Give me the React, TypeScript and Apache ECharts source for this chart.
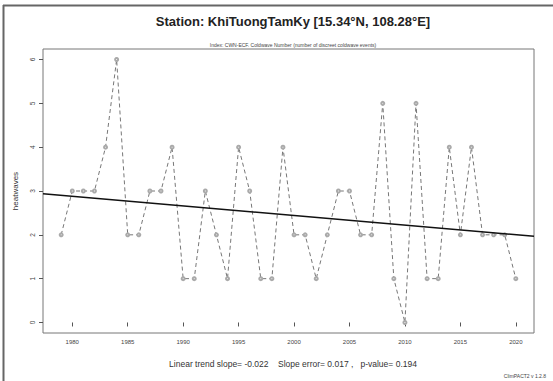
import React, { useEffect, useRef } from "react";
import * as echarts from "echarts";

const years: number[] = [
  1979, 1980, 1981, 1982, 1983, 1984, 1985, 1986, 1987, 1988, 1989, 1990, 1991, 1992,
  1993, 1994, 1995, 1996, 1997, 1998, 1999, 2000, 2001, 2002, 2003, 2004, 2005, 2006,
  2007, 2008, 2009, 2010, 2011, 2012, 2013, 2014, 2015, 2016, 2017, 2018, 2019, 2020,
];
const values: number[] = [
  2, 3, 3, 3, 4, 6, 2, 2, 3, 3, 4, 1, 1, 3,
  2, 1, 4, 3, 1, 1, 4, 2, 2, 1, 2, 3, 3, 2,
  2, 5, 1, 0, 5, 1, 1, 4, 2, 4, 2, 2, 2, 1,
];
const xTicks: number[] = [1980, 1985, 1990, 1995, 2000, 2005, 2010, 2015, 2020];
const yTicks: number[] = [0, 1, 2, 3, 4, 5, 6];
const trendYears: number[] = [1977.36, 2021.64];
const trendValues: number[] = [2.94, 1.965];

const titleText = "Station: KhiTuongTamKy [15.34°N, 108.28°E]";
const subText = "Index: CWN-ECF. Coldwave Number (number of discreet coldwave events)";
const footText = "Linear trend slope= -0.022    Slope error= 0.017 ,   p-value= 0.194";
const versionText = "ClimPACT2 v 1.2.8";

export default function App() {
  const ref = useRef<HTMLDivElement>(null);
  useEffect(() => {
    if (!ref.current) return;
    const chart = echarts.init(ref.current, undefined, { renderer: "svg" });
    const font = "'Liberation Sans', Arial, sans-serif";
    const axisCol = "#555";
    chart.setOption({
      animation: false,
      backgroundColor: "#fff",
      textStyle: { fontFamily: font },
      title: [
        {
          text: titleText,
          left: 288,
          textAlign: "center",
          top: 10,
          textStyle: { fontSize: 13, fontWeight: "bold", color: "#222", fontFamily: font },
        },
        {
          text: subText,
          left: 288,
          textAlign: "center",
          top: 37,
          textStyle: { fontSize: 5, fontWeight: "normal", color: "#444", fontFamily: font },
        },
        {
          text: footText,
          left: 288,
          textAlign: "center",
          top: 354,
          textStyle: { fontSize: 8.5, fontWeight: "normal", color: "#333", fontFamily: font },
        },
        {
          text: versionText,
          right: 2,
          top: 368,
          textStyle: { fontSize: 5, fontWeight: "normal", color: "#444", fontFamily: font },
        },
      ],
      graphic: [
        { type: "line", shape: { x1: 3.5, y1: 5, x2: 3.5, y2: 381 }, style: { stroke: "#666", lineWidth: 2 } },
        { type: "line", shape: { x1: 3, y1: 5.5, x2: 553, y2: 5.5 }, style: { stroke: "#666", lineWidth: 2 } },
      ],
      grid: {
        left: 43,
        top: 49,
        right: 19,
        bottom: 48,
        show: true,
        borderColor: "#777",
        borderWidth: 1,
        backgroundColor: "transparent",
      },
      xAxis: {
        type: "value",
        min: trendYears[0],
        max: trendYears[1],
        splitLine: { show: false },
        axisLine: { show: false },
        axisTick: {
          show: true,
          customValues: xTicks,
          length: 4,
          inside: false,
          lineStyle: { color: axisCol },
        },
        axisLabel: {
          show: true,
          customValues: xTicks,
          formatter: (v: number) => String(Math.round(v)),
          fontSize: 6,
          color: "#444",
          margin: 6,
          fontFamily: font,
        },
      },
      yAxis: {
        type: "value",
        min: -0.24,
        max: 6.24,
        name: "heatwaves",
        nameLocation: "middle",
        nameGap: 24,
        nameRotate: 90,
        nameTextStyle: { fontSize: 8, color: "#333", fontFamily: font },
        splitLine: { show: false },
        axisLine: { show: false },
        axisTick: {
          show: true,
          customValues: yTicks,
          length: 4,
          lineStyle: { color: axisCol },
        },
        axisLabel: {
          show: true,
          customValues: yTicks,
          rotate: 90,
          fontSize: 6.5,
          color: "#444",
          margin: 7,
          fontFamily: font,
        },
      },
      series: [
        {
          type: "line",
          data: years.map((y, i) => [y, values[i]]),
          symbol: "emptyCircle",
          symbolSize: 3,
          lineStyle: { color: "#777", width: 1, type: [4, 3] },
          itemStyle: { color: "#aaa", borderColor: "#aaa", borderWidth: 0.6 },
          z: 2,
        },
        {
          type: "line",
          data: trendYears.map((y, i) => [y, trendValues[i]]),
          symbol: "none",
          lineStyle: { color: "#111", width: 1.5 },
          z: 3,
        },
      ],
    });
    return () => chart.dispose();
  }, []);
  return (
    <div
      ref={ref}
      style={{ position: "fixed", left: 0, top: 0, width: 553, height: 381 }}
    />
  );
}
